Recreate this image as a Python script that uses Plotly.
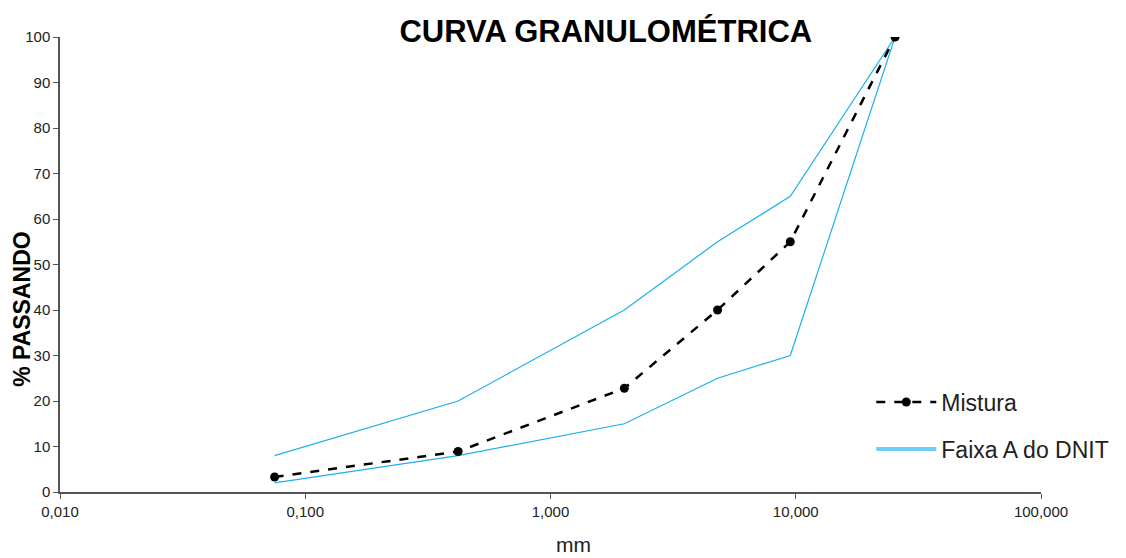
import plotly.graph_objects as go

sieve_mm = [0.075, 0.42, 2.0, 4.8, 9.5, 25.4]
mistura = [3.3, 8.9, 22.8, 40.0, 55.0, 100.0]
faixa_sup = [8, 20, 40, 55, 65, 100]
faixa_inf = [2, 8, 15, 25, 30, 100]

x_tickvals = [0.01, 0.1, 1, 10, 100]
x_ticktext = ["0,010", "0,100", "1,000", "10,000", "100,000"]
y_tickvals = list(range(0, 101, 10))

band_color = "#1cb0ec"
legend_band_color = "#6dcff6"
font_family = "Liberation Sans, Arial, sans-serif"

fig = go.Figure()
fig.add_trace(go.Scatter(x=sieve_mm, y=faixa_sup, mode="lines",
                         line=dict(color=band_color, width=1.2),
                         showlegend=False, hoverinfo="x+y"))
fig.add_trace(go.Scatter(x=sieve_mm, y=faixa_inf, mode="lines",
                         line=dict(color=band_color, width=1.2),
                         showlegend=False, hoverinfo="x+y"))
fig.add_trace(go.Scatter(x=sieve_mm, y=mistura, mode="lines+markers",
                         name="Mistura", legendgroup="a",
                         line=dict(color="black", width=2.5, dash="dash"),
                         marker=dict(color="black", size=9)))
fig.add_trace(go.Scatter(x=[None], y=[None], mode="lines",
                         name="Faixa A do DNIT", legendgroup="b",
                         line=dict(color=legend_band_color, width=4)))

fig.update_layout(
    width=1126, height=558,
    paper_bgcolor="white", plot_bgcolor="white",
    margin=dict(l=60, r=83, t=37, b=66),
    font=dict(family=font_family, color="#222222", size=15),
    title=dict(text="<b>CURVA GRANULOMÉTRICA</b>", x=0.538, xanchor="center",
               y=0.944, yanchor="middle",
               font=dict(size=31, color="black", family=font_family)),
    xaxis=dict(type="log", range=[-2, 2], tickvals=x_tickvals, ticktext=x_ticktext,
               showgrid=False, zeroline=False, showline=True, linecolor="#555555",
               linewidth=1.5, ticks="outside", ticklen=5, tickcolor="#555555",
               tickfont=dict(size=15, color="#222222")),
    yaxis=dict(range=[0, 100], tickvals=y_tickvals, showgrid=False, zeroline=False,
               showline=True, linecolor="#555555", linewidth=1.5, ticks="outside",
               ticklen=5, tickcolor="#555555", tickfont=dict(size=15, color="#222222")),
    legend=dict(x=0.827, y=0.245, xanchor="left", yanchor="top",
                bgcolor="rgba(0,0,0,0)", font=dict(size=23, color="#222222"),
                traceorder="grouped", tracegroupgap=14, itemwidth=60),
    annotations=[
        dict(text="<b>% PASSANDO</b>", xref="paper", yref="paper", x=-0.039, y=0.402,
             showarrow=False, textangle=-90, xanchor="center", yanchor="middle",
             font=dict(size=23, color="black", family=font_family)),
        dict(text="mm", xref="paper", yref="paper", x=0.523, y=-0.085,
             showarrow=False, xanchor="center", yanchor="top",
             font=dict(size=21, color="#222222", family=font_family)),
    ],
)

fig.write_html("out.html", config={"displayModeBar": False},
               post_script="document.body.style.margin='0';")
